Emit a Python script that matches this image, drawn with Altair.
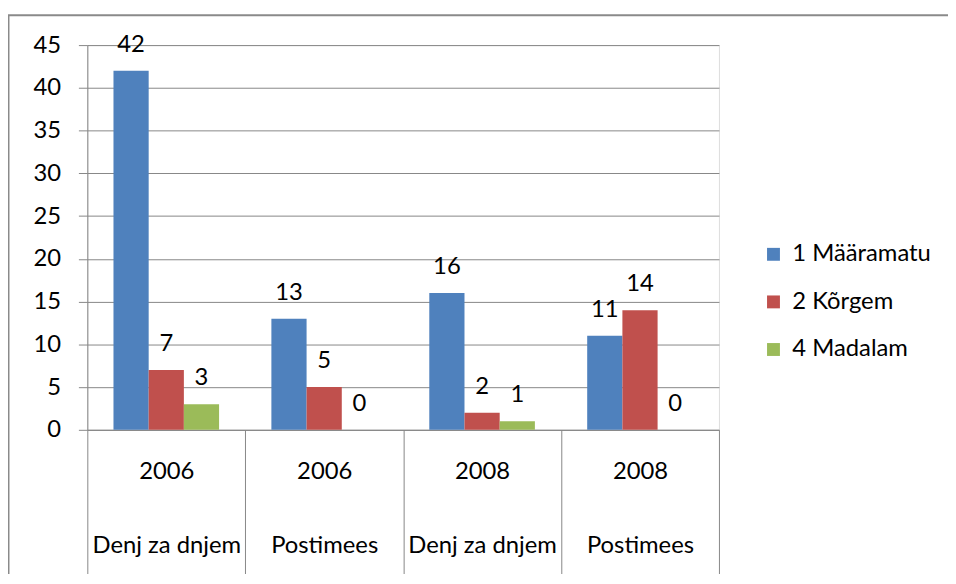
import altair as alt
import pandas as pd

categories = ["2006|Denj za dnjem", "2006|Postimees", "2008|Denj za dnjem", "2008|Postimees"]
series = ["1 Määramatu", "2 Kõrgem", "4 Madalam"]
values_maaramatu = [42, 13, 16, 11]
values_korgem = [7, 5, 2, 14]
values_madalam = [3, 0, 1, 0]
colors = ["#4F81BD", "#C0504D", "#9BBB59"]

rows = []
for s, vals in zip(series, [values_maaramatu, values_korgem, values_madalam]):
    for c, v in zip(categories, vals):
        rows.append({"cat": c, "series": s, "value": v})
df = pd.DataFrame(rows)

FONT = "Lato"
FS = 24
GRAY = "#878787"

x_enc = alt.X("cat:N", sort=categories,
              scale=alt.Scale(paddingInner=0, paddingOuter=0),
              axis=alt.Axis(title=None, labelExpr="split(datum.label, '|')",
                            labelAngle=0, labelFontSize=FS, labelFont=FONT,
                            labelColor="#000000", labelLineHeight=75,
                            labelBaseline="top", labelPadding=-118,
                            tickBand="extent", tickSize=148, tickColor=GRAY,
                            domainColor=GRAY, grid=False))
xoff = alt.XOffset("series:N", sort=series,
                   scale=alt.Scale(paddingInner=0, paddingOuter=0.743))
y_enc = alt.Y("value:Q", scale=alt.Scale(domain=[0, 45], nice=False),
              axis=alt.Axis(title=None, values=list(range(0, 50, 5)),
                            labelFontSize=FS, labelFont=FONT, labelColor="#000000",
                            labelPadding=18, tickSize=9, tickColor=GRAY,
                            domainColor=GRAY, gridColor=GRAY))

bars = alt.Chart(df).mark_bar().encode(
    x=x_enc, xOffset=xoff, y=y_enc,
    color=alt.Color("series:N", sort=series,
                    scale=alt.Scale(domain=series, range=colors),
                    legend=alt.Legend(title=None, orient="none", legendX=680, legendY=199,
                                      symbolType="square", symbolSize=169,
                                      symbolStrokeWidth=0, labelFontSize=FS,
                                      labelFont=FONT, labelColor="#000000",
                                      labelOffset=7, rowPadding=24, padding=0)),
)

labels = alt.Chart(df).mark_text(fontSize=FS, font=FONT, color="#000000",
                                 baseline="middle", dy=-26).encode(
    x=alt.X("cat:N", sort=categories), xOffset=alt.XOffset("series:N", sort=series),
    y="value:Q", text="value:Q")

frame = alt.Chart(pd.DataFrame({"a": [0]})).mark_rect(
    fill=None, stroke="#8a8a8a", strokeWidth=2).encode(
    x=alt.value(-79.5), x2=alt.value(1000), y=alt.value(-30), y2=alt.value(700))

chart = alt.layer(bars, labels, frame).properties(
    width=637, height=388,
    autosize=alt.AutoSizeParams(type="none"),
    padding={"left": 80, "top": 35, "right": 231, "bottom": 143},
).configure_view(stroke=None).configure(background="#ffffff")

chart.save("out.html", embed_options={"renderer": "svg", "actions": False})
